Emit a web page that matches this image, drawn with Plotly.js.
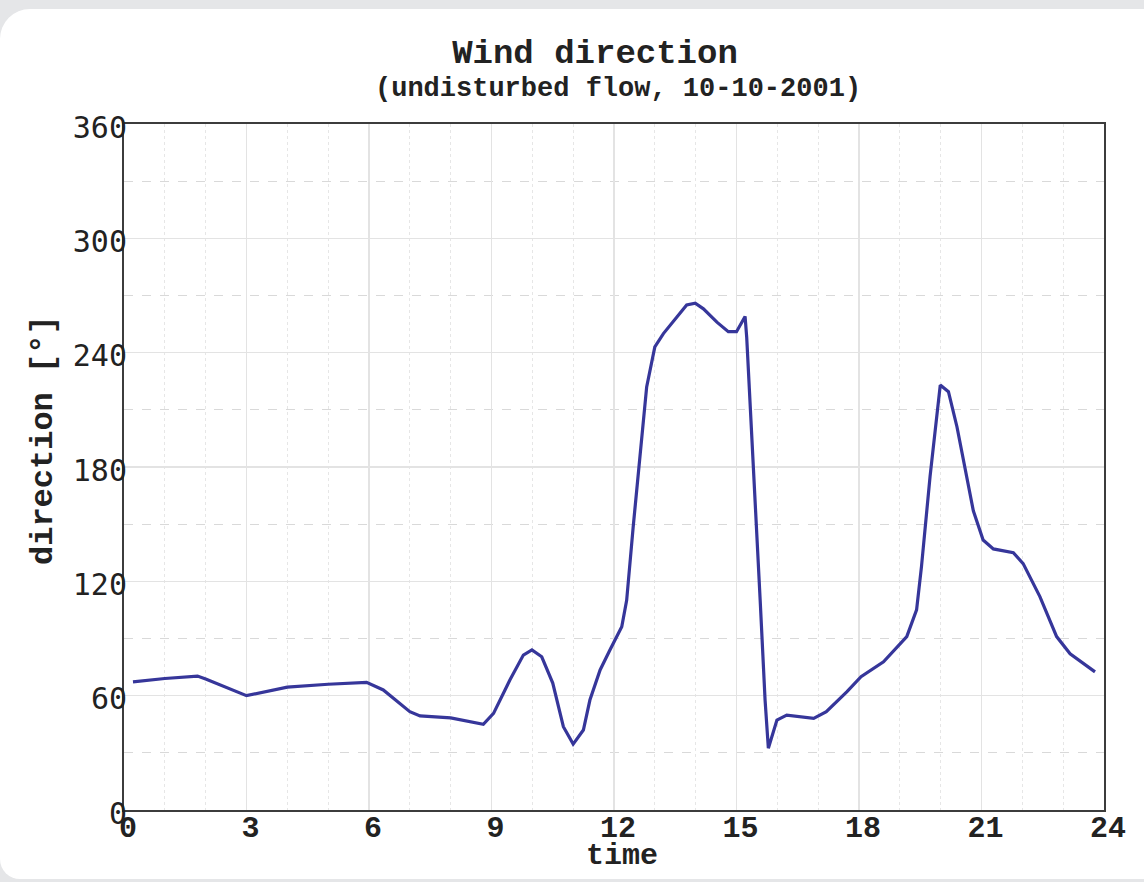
<!DOCTYPE html>
<html>
<head>
<meta charset="utf-8">
<script src="https://cdn.plot.ly/plotly-3.0.1.min.js"></script>
<style>
  html, body { margin: 0; padding: 0; width: 1144px; height: 882px; background: #e5e6e8; overflow: hidden; }
  #card { position: absolute; left: 0; top: 9px; width: 1144px; height: 870px; background: #ffffff;
          border-top-left-radius: 30px; border-bottom-left-radius: 20px; }
  #chart { position: absolute; left: 0; top: 0; width: 1144px; height: 882px; }
</style>
</head>
<body>
<div id="card"></div>
<div id="chart"></div>
<script>
// time of day [h]
const hours = [0.22, 1.0, 1.8, 2.0, 3.0, 4.0, 5.0, 5.94, 6.35, 7.0, 7.25, 8.0, 8.8, 9.05, 9.45, 9.78, 9.99, 10.23, 10.5, 10.76, 11.0, 11.25, 11.41, 11.66, 11.9, 12.19, 12.31, 12.47, 12.8, 13.0, 13.21, 13.78, 13.99, 14.19, 14.52, 14.8, 15.0, 15.21, 15.25, 15.5, 15.58, 15.7, 15.78, 15.99, 16.23, 16.89, 17.2, 17.7, 18.05, 18.6, 19.17, 19.41, 19.53, 19.74, 19.99, 20.19, 20.4, 20.8, 21.04, 21.29, 21.78, 22.02, 22.43, 22.84, 23.17, 23.78];
// wind direction [deg]
const direction = [67.2, 69.0, 70.3, 68.7, 60.0, 64.5, 66.0, 67.0, 63.0, 51.6, 49.4, 48.3, 45.0, 50.7, 68.2, 81.3, 84.0, 80.4, 66.6, 43.7, 34.6, 42.0, 57.7, 73.5, 84.0, 96.2, 110.0, 148.6, 222.0, 243.0, 250.0, 265.0, 266.0, 263.0, 256.0, 251.0, 251.0, 259.0, 248.0, 147.0, 110.0, 57.7, 32.4, 47.2, 49.8, 48.1, 51.6, 62.0, 70.0, 77.8, 91.0, 105.0, 127.7, 175.0, 223.0, 219.5, 201.0, 157.0, 141.7, 137.0, 135.0, 129.3, 112.0, 91.0, 82.0, 72.5];

const xTickVals = [0, 3, 6, 9, 12, 15, 18, 21, 24];
const yTickVals = [0, 60, 120, 180, 240, 300, 360];

const monoBold = "'Liberation Mono', 'Courier New', monospace";

const trace = {
  x: hours,
  y: direction,
  type: 'scatter',
  mode: 'lines',
  line: { color: '#36369a', width: 3.2, shape: 'linear' },
  hoverinfo: 'x+y'
};

const layout = {
  width: 1144,
  height: 882,
  paper_bgcolor: 'rgba(0,0,0,0)',
  plot_bgcolor: '#ffffff',
  margin: { l: 124, r: 40, t: 124, b: 72 },
  showlegend: false,
  title: {
    text: '<b>Wind direction</b>',
    font: { family: monoBold, size: 34, color: '#222222' },
    xref: 'paper', x: 0.4806, xanchor: 'center',
    yref: 'container', y: 1 - 51 / 882, yanchor: 'middle'
  },
  xaxis: {
    range: [0, 24],
    tickvals: xTickVals,
    ticktext: xTickVals.map(String),
    tickfont: { family: monoBold, size: 30, color: '#222222', weight: 'bold' },
    ticks: '',
    ticklabelshift: 4,
    ticklabelstandoff: -11,
    showline: true, linecolor: '#3c3c3c', linewidth: 2, mirror: true,
    showgrid: true, gridcolor: '#e3e3e3', gridwidth: 1.5,
    zeroline: false,
    minor: { dtick: 1, showgrid: true, gridcolor: '#e6e6e6', griddash: 'dot', gridwidth: 1 }
  },
  yaxis: {
    range: [0, 360],
    tickvals: yTickVals,
    ticktext: yTickVals.map(String),
    tickfont: { family: "'DejaVu Sans Mono', monospace", size: 30, color: '#222222' },
    ticks: '',
    ticklabelstandoff: -11,
    ticklabelshift: 3,
    showline: true, linecolor: '#3c3c3c', linewidth: 2, mirror: true,
    showgrid: true, gridcolor: '#e3e3e3', gridwidth: 1.5,
    zeroline: false,
    minor: { dtick: 30, showgrid: true, gridcolor: '#d9d9d9', griddash: 'dash', gridwidth: 1 }
  },
  annotations: [
    {
      text: '<b>(undisturbed flow, 10-10-2001)</b>',
      font: { family: monoBold, size: 27, color: '#222222' },
      xref: 'paper', x: (618 - 124) / 980, xanchor: 'center',
      yref: 'paper', y: (810 - 89) / 686, yanchor: 'middle',
      showarrow: false
    },
    {
      text: '<b>time</b>',
      font: { family: monoBold, size: 30, color: '#222222' },
      xref: 'paper', x: (622 - 124) / 980, xanchor: 'center',
      yref: 'paper', y: (810 - 856) / 686, yanchor: 'middle',
      showarrow: false
    },
    {
      text: '<b>direction [°]</b>',
      font: { family: monoBold, size: 32, color: '#222222' },
      textangle: -90,
      xref: 'paper', x: (43 - 124) / 980, xanchor: 'center',
      yref: 'paper', y: (810 - 440) / 686, yanchor: 'middle',
      showarrow: false
    }
  ]
};

Plotly.newPlot('chart', [trace], layout, { displayModeBar: false, staticPlot: true });
</script>
</body>
</html>
